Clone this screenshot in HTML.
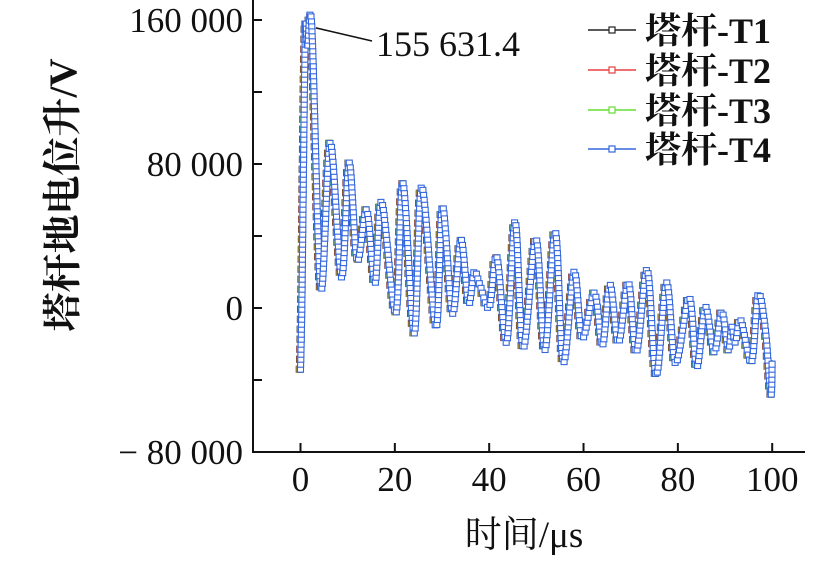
<!DOCTYPE html>
<html><head><meta charset="utf-8"><style>
html,body{margin:0;padding:0;background:#fff;}
svg{display:block;}
text{font-family:"Liberation Serif","Noto Serif CJK SC",serif;fill:#111;}
</style></head><body>
<svg id="chart" width="840" height="565" viewBox="0 0 840 565" xmlns="http://www.w3.org/2000/svg">
<g id="axes"></g>
<g id="plot"></g>
<g id="legend"></g>
</svg>
<script>
// ---- data ----
const times = [0,0.3,1,1.5,2.4,4.3,6.3,8.7,10.3,12.0,14.0,15.8,17.2,20.2,21.7,24.1,25.7,28.7,30.1,32.2,34.0,35.6,36.8,38.0,40.0,41.6,43.7,45.5,47.2,49.9,51.8,54.0,55.7,58.0,59.7,62.3,64.0,65.6,67.4,69.5,71.2,73.5,75.4,77.6,79.5,82.4,84.0,85.8,87.7,89.3,90.7,91.4,92.2,93.3,95.6,97.0,98.5,99.7,100];
const valuesT4 = [-34000,5000,150000,145000,155631,11000,91600,17200,80500,26700,54400,13900,58900,-2800,69400,-13900,67200,-10500,56100,-2800,37800,2800,20000,12800,500,28300,-18900,47800,-22200,38300,-23300,42200,-30000,20000,-16700,8300,-20600,12800,-18900,13900,-24400,21100,-37200,13900,-30600,5600,-32800,500,-24400,-2200,-23300,-10500,-18900,-6700,-30000,7200,-11000,-48000,-29000];
const valuesT1 = valuesT4.slice();
const valuesT2 = valuesT4.slice();
const valuesT3 = valuesT4.slice();
const xTicks = [0,20,40,60,80,100];
const yTicks = [-80000,0,80000,160000];
const yMinorTicks = [-40000,40000,120000];
const yTickLabels = ["\u2212 80 000","0","80 000","160 000"];
const seriesNames = ["塔杆-T1","塔杆-T2","塔杆-T3","塔杆-T4"];
const seriesColors = ["#222222","#e84040","#66dd33","#3366dd"];
const peakLabel = "155 631.4";

const NS="http://www.w3.org/2000/svg";
const X0=253, XR=805, YB=452;
function xs(t){return 300.5+4.717*t;}
function ys(v){return 308 - v*144/80000;}
function mk(tag,attrs,parent){const e=document.createElementNS(NS,tag);for(const k in attrs)e.setAttribute(k,attrs[k]);parent.appendChild(e);return e;}
const axes=document.getElementById('axes'), plot=document.getElementById('plot'), legend=document.getElementById('legend');

let ya=mk('line',{x1:X0,y1:0,x2:X0,y2:YB,stroke:'#111','stroke-width':2},axes);


let xa=mk('line',{x1:X0-1,y1:YB,x2:XR,y2:YB,stroke:'#111','stroke-width':2},axes);



xTicks.forEach(t=>{
  const tk=mk('line',{x1:xs(t),y1:YB,x2:xs(t),y2:YB-9,stroke:'#111','stroke-width':2},axes);
  
  
  const lb=mk('text',{x:xs(t),y:491,'font-size':35,'text-anchor':'middle'},axes);
  lb.textContent=t;
  
  
});
yTicks.forEach((v,i)=>{
  const tk=mk('line',{x1:X0,y1:ys(v),x2:X0+9,y2:ys(v),stroke:'#111','stroke-width':2},axes);
  
  
  const lb=mk('text',{x:243,y:ys(v)+12,'font-size':35,'text-anchor':'end'},axes);
  lb.textContent=yTickLabels[i];
  
  
});
yMinorTicks.forEach(v=>{
  const tk=mk('line',{x1:X0,y1:ys(v),x2:X0+9,y2:ys(v),stroke:'#111','stroke-width':2},axes);
  
  
});
let xt=mk('text',{x:524,y:547,'font-size':37,'text-anchor':'middle'},axes);
xt.textContent='时间/μs';


let yt=mk('text',{x:0,y:0,'font-size':39,'font-weight':'bold','text-anchor':'middle',transform:'translate(76,195) rotate(-90)'},axes);
yt.textContent='塔杆地电位升/V';



function pathD(vals,dx){
  const p=times.map((t,i)=>[xs(t)+dx,ys(vals[i])]);
  let d='M'+p[0][0]+','+p[0][1];
  for(let i=0;i<p.length-1;i++){
    const p0=p[Math.max(0,i-1)],p1=p[i],p2=p[i+1],p3=p[Math.min(p.length-1,i+2)];
    const k=0.5/3;
    d+=' C'+(p1[0]+(p2[0]-p0[0])*k).toFixed(2)+','+(p1[1]+(p2[1]-p0[1])*k).toFixed(2)+' '+
       (p2[0]-(p3[0]-p1[0])*k).toFixed(2)+','+(p2[1]-(p3[1]-p1[1])*k).toFixed(2)+' '+p2[0].toFixed(2)+','+p2[1].toFixed(2);
  }
  return d;
}
const allVals=[valuesT1,valuesT2,valuesT3,valuesT4];
allVals.forEach((vals,si)=>{
  const g=mk('g',{},plot);
  
  
  const dx=(si-3)*0.4;
  const path=mk('path',{d:pathD(vals,dx),fill:'none',stroke:seriesColors[si],'stroke-width':1.2},g);
  
  
  const L=path.getTotalLength();
  const step=si===3?5:10;
  for(let s=0;s<=L;s+=step){
    const pt=path.getPointAtLength(s);
    const m=mk('rect',{x:(pt.x-3).toFixed(1),y:(pt.y-3).toFixed(1),width:6,height:6,fill:'#fff',stroke:seriesColors[si],'stroke-width':1.1},g);
    
    
  }
});
// peak annotation
const pk=valuesT4.indexOf(Math.max(...valuesT4));
let al=mk('line',{x1:xs(times[pk])+4,y1:ys(valuesT4[pk]),x2:372,y2:41,stroke:'#111','stroke-width':1.5},plot);


let at=mk('text',{x:376,y:56,'font-size':36},plot);
at.textContent=peakLabel;



const ly=[30,70,110,149];
seriesNames.forEach((n,i)=>{
  const g=mk('g',{},legend);
  
  
  mk('line',{x1:588,y1:ly[i],x2:636,y2:ly[i],stroke:seriesColors[i],'stroke-width':1.5},g);
  mk('rect',{x:609,y:ly[i]-3,width:6,height:6,fill:'#fff',stroke:seriesColors[i],'stroke-width':1.2},g);
  const t=mk('text',{x:645,y:ly[i]+13,'font-size':36,'font-weight':'bold'},g);
  t.textContent=n;
});
</script>
</body></html>
